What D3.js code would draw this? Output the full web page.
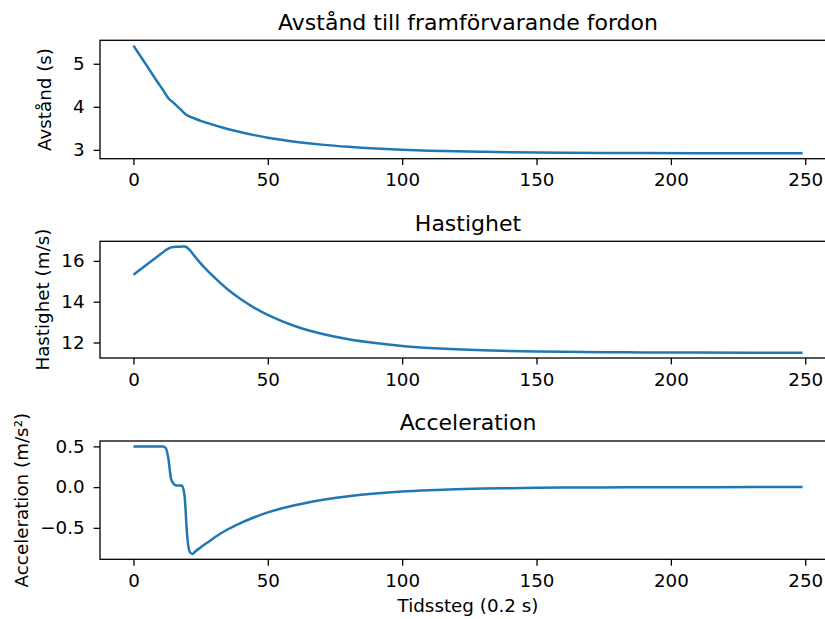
<!DOCTYPE html>
<html>
<head>
<meta charset="utf-8">
<script src="https://d3js.org/d3.v7.min.js"></script>
<style>
    body { margin: 0; background: #fff; }
    svg text { font-family: "DejaVu Sans", sans-serif; fill: #000; }
</style>
</head>
<body>
<svg width="825" height="619"></svg>
<script>
// time steps (0.2 s each)
var steps = [0, 5, 10, 11, 12, 13, 14, 15, 16, 17, 18, 19, 20, 21, 22, 23, 25, 28, 31, 35, 40, 45, 50, 55, 60, 65, 70,
             80, 90, 100, 110, 120, 130, 140, 150, 160, 175, 190, 210, 230, 249];
// distance to vehicle ahead (s)
var distance = [5.42, 4.95, 4.48, 4.39, 4.29, 4.20, 4.14, 4.09, 4.03, 3.97, 3.91, 3.85, 3.80, 3.774, 3.747, 3.722, 3.675, 3.615, 3.557, 3.486, 3.409, 3.342, 3.284, 3.234, 3.191, 3.154, 3.122,
                3.071, 3.032, 3.004, 2.982, 2.966, 2.955, 2.946, 2.939, 2.934, 2.929, 2.925, 2.922, 2.921, 2.92];
// speed (m/s)
var speed = [15.32, 15.82, 16.32, 16.42, 16.52, 16.60, 16.66, 16.68, 16.69, 16.69, 16.70, 16.70, 16.65, 16.52, 16.36, 16.19, 15.88, 15.46, 15.08, 14.61, 14.12, 13.70, 13.35, 13.06, 12.81, 12.60, 12.43,
             12.16, 11.97, 11.83, 11.735, 11.665, 11.617, 11.583, 11.559, 11.542, 11.525, 11.514, 11.506, 11.502, 11.50];
// acceleration (m/s²)
var accel = [0.50, 0.50, 0.50, 0.50, 0.48, 0.35, 0.10, 0.04, 0.02, 0.02, 0.02, -0.10, -0.60, -0.80, -0.82, -0.79, -0.74, -0.67, -0.60, -0.52, -0.44, -0.37, -0.31, -0.262, -0.222, -0.188, -0.159,
             -0.112, -0.078, -0.054, -0.038, -0.026, -0.018, -0.013, -0.009, -0.006, -0.004, -0.002, -0.001, 0, 0];

var xTicks = [0, 50, 100, 150, 200, 250];

var svg = d3.select("svg");
var x = d3.scaleLinear()
    .domain([-0.05 * 249, 249 * 1.05])
    .range([100, 836]);

function pad(ext) {
    var m = (ext[1] - ext[0]) * 0.05;
    return [ext[0] - m, ext[1] + m];
}

function drawPanel(o) {
    var y = d3.scaleLinear().domain(pad(d3.extent(o.values))).range([o.bottom, o.top]);
    var g = svg.append("g");

    //Line
    g.append("path")
        .datum(steps.map(function(s, i) { return [s, o.values[i]]; }))
        .attr("fill", "none")
        .attr("stroke", "#1f77b4")
        .attr("stroke-width", 2.5)
        .attr("stroke-linejoin", "round")
        .attr("d", d3.line()
            .curve(d3.curveMonotoneX)
            .x(function(d) { return x(d[0]); })
            .y(function(d) { return y(d[1]); }));

    //Axes
    var xa = g.append("g")
        .attr("transform", "translate(0," + o.bottom + ")")
        .call(d3.axisBottom(x).tickValues(xTicks).tickSize(6.4).tickPadding(6).tickFormat(d3.format("d")));
    var ya = g.append("g")
        .attr("transform", "translate(100,0)")
        .call(d3.axisLeft(y).tickValues(o.yticks).tickSize(6.4).tickPadding(9).tickFormat(o.fmt));
    [xa, ya].forEach(function(a) {
        a.select(".domain").remove();
        a.selectAll("line").attr("stroke", "#000").attr("stroke-width", 1.3);
        a.selectAll("text").style("font-size", "18.3px").attr("fill", "#000");
    });
    xa.selectAll("text").attr("dy", null).attr("y", 27.5);

    //Frame
    g.append("rect")
        .attr("x", 100)
        .attr("y", o.top)
        .attr("width", 736)
        .attr("height", o.bottom - o.top)
        .attr("fill", "none")
        .attr("stroke", "#000")
        .attr("stroke-width", 1.3);

    //Title and y label
    g.append("text")
        .attr("x", 468)
        .attr("y", o.top - 10.8)
        .style("text-anchor", "middle")
        .style("font-size", "22px")
        .text(o.title);
    g.append("text")
        .attr("transform", "translate(" + o.labelX + "," + (o.top + o.bottom) / 2 + ") rotate(-90)")
        .style("text-anchor", "middle")
        .style("font-size", "18.3px")
        .text(o.ylabel);
}

drawPanel({title: "Avstånd till framförvarande fordon", ylabel: "Avstånd (s)", values: distance,
           yticks: [3, 4, 5], fmt: d3.format("d"), top: 40.3, bottom: 158.7, labelX: 51});
drawPanel({title: "Hastighet", ylabel: "Hastighet (m/s)", values: speed,
           yticks: [12, 14, 16], fmt: d3.format("d"), top: 241.3, bottom: 358, labelX: 48.5});
drawPanel({title: "Acceleration", ylabel: "Acceleration (m/s²)", values: accel,
           yticks: [-0.5, 0, 0.5], fmt: d3.format(".1f"), top: 441, bottom: 559.3, labelX: 28});

//X label
svg.append("text")
    .attr("x", 468)
    .attr("y", 611.5)
    .style("text-anchor", "middle")
    .style("font-size", "18.3px")
    .text("Tidssteg (0.2 s)");
</script>
</body>
</html>
